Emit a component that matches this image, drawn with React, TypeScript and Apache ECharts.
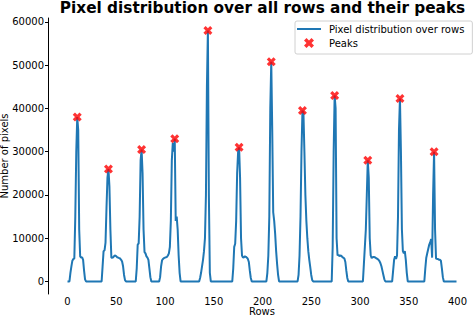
import React, { useEffect, useRef } from "react";
import * as echarts from "echarts";

// Row index (breakpoints of the profile) and pixel count at that row
const rowIdx: number[] = [
  0, 2, 3, 4, 5, 6, 7, 8, 9, 10, 11, 12, 13, 14, 15, 16, 17, 18, 19,
  35, 36, 37, 38, 39, 40, 41, 42, 43, 44, 45, 46, 47, 48, 49, 50, 51, 52, 53, 54, 55, 56, 57, 58, 59, 60,
  70, 71, 72, 73, 74, 75, 76, 77, 78, 79, 80, 81, 82, 83, 84, 85, 86,
  94, 95, 96, 97, 98, 99, 100, 101, 102, 103, 104, 105, 106, 107, 108, 109, 110, 111, 112, 113, 114, 115, 116,
  135, 136, 137, 138, 139, 140, 141, 142, 143, 144, 145, 146, 147,
  169, 170, 171, 172, 173, 174, 175, 176, 177, 178, 179, 180, 181, 182, 183, 184, 185, 186, 187, 188, 189,
  204, 205, 206, 207, 208, 209, 210, 211, 212, 213, 214, 215, 216, 217,
  236, 237, 238, 239, 240, 241, 242, 243, 244, 245, 246, 247, 248, 249, 250, 251, 252,
  271, 272, 273, 274, 275, 276, 277, 278, 279, 280, 281, 282, 283, 284, 285, 286, 287, 288,
  303, 304, 305, 306, 307, 308, 309, 310, 311, 312, 313, 314, 315, 316, 317, 318, 319, 320, 321, 322, 323, 324, 325, 326,
  333, 334, 335, 336, 337, 338, 339, 340, 341, 342, 343, 344, 345, 346, 347, 348, 349,
  366, 367, 368, 369, 370, 371, 372, 373, 374, 375, 376, 377, 378, 379, 380, 381, 382, 383, 384, 385, 386, 399,
];

const pixelCounts: number[] = [
  0, 0, 2000, 3500, 4800, 5200, 5300, 15000, 30000, 38000, 35000, 12000, 5800, 5500, 5600, 5000, 2500, 500, 0,
  0, 3500, 7000, 7200, 9000, 17000, 24000, 26000, 22000, 12000, 5500, 5500, 5600, 5900, 6000, 5800, 5600, 5500, 5400, 5300, 5000, 4600, 3500, 1500, 300, 0,
  0, 3000, 8500, 8800, 15000, 28000, 30500, 25000, 12000, 6800, 6500, 5800, 5500, 5000, 3000, 1000, 0,
  0, 1000, 3500, 4900, 5200, 5400, 5500, 5600, 5700, 6000, 6500, 8000, 14000, 28000, 32000, 30000, 33000, 14000, 15000, 12000, 6000, 2000, 0,
  0, 800, 2000, 3500, 5000, 7000, 10000, 20000, 45000, 58000, 20000, 2000, 0,
  0, 3000, 8000, 8700, 14000, 25000, 30000, 31000, 24000, 10000, 6000, 5500, 5600, 5800, 5700, 5500, 5200, 4500, 2500, 800, 0,
  0, 2000, 6000, 15000, 40000, 50800, 35000, 16000, 14000, 11000, 7000, 4000, 1500, 0,
  0, 1500, 6000, 15000, 30000, 39500, 39000, 30000, 20000, 14000, 10000, 7000, 5000, 3300, 1500, 300, 0,
  0, 8000, 30000, 43000, 40000, 10000, 6000, 6200, 5800, 6000, 5900, 5600, 5500, 5300, 4500, 2500, 800, 0,
  0, 4000, 8000, 12000, 20000, 28000, 24000, 10000, 6000, 5400, 5600, 5700, 5600, 5500, 5300, 5200, 5000, 4700, 4200, 3500, 2500, 1500, 500, 0,
  0, 2500, 5000, 5800, 5200, 6000, 15000, 35000, 42300, 30000, 12000, 7000, 6500, 7000, 5000, 2000, 0,
  0, 3000, 5500, 6500, 7500, 8500, 9000, 9800, 5500, 20000, 30000, 12000, 5300, 5200, 5200, 5000, 5000, 4800, 3000, 1000, 0, 0,
];

const peakRows: number[] = [10, 42, 76, 110, 144, 176, 209, 241, 274, 308, 341, 376];
const peakValues: number[] = [38000, 26000, 30500, 33000, 58000, 31000, 50800, 39500, 43000, 28000, 42300, 30000];

const xTicks: number[] = [0, 50, 100, 150, 200, 250, 300, 350, 400];
const yTicks: number[] = [0, 10000, 20000, 30000, 40000, 50000, 60000];

const TITLE = "Pixel distribution over all rows and their peaks";
const LINE_NAME = "Pixel distribution over rows";
const PEAK_NAME = "Peaks";

const FONT = "DejaVu Sans";
const X_MARK =
  "path://M0,2.5 L2.5,0 L5,2.5 L7.5,0 L10,2.5 L7.5,5 L10,7.5 L7.5,10 L5,7.5 L2.5,10 L0,7.5 L2.5,5 Z";
const LINE_ICON = "path://M0,0 H24 V2 H0 Z";

export default function App() {
  const ref = useRef<HTMLDivElement>(null);

  useEffect(() => {
    if (!ref.current) return;
    const chart = echarts.init(ref.current, null, { renderer: "svg" });
    const lineData = rowIdx.map((r, i) => [r, pixelCounts[i]]);
    const peakData = peakRows.map((r, i) => [r, peakValues[i]]);

    chart.setOption({
      animation: false,
      backgroundColor: "#ffffff",
      graphic: [
        {
          type: "text",
          x: 262.5,
          y: 0.8,
          style: {
            text: TITLE,
            fill: "#000",
            fontFamily: FONT,
            fontWeight: "bold",
            fontSize: 15.3,
            align: "center",
            verticalAlign: "top",
          },
        },
      ],
      grid: { left: 48, right: 0, top: 18, bottom: 22, containLabel: false, outerBoundsMode: "none" },
      legend: {
        orient: "vertical",
        left: 295,
        top: 21,
        padding: [3, 8, 6, 2],
        itemGap: 4,
        itemWidth: 24,
        itemHeight: 10,
        borderColor: "#d0d0d0",
        borderWidth: 1,
        borderRadius: 2,
        backgroundColor: "rgba(255,255,255,0.8)",
        textStyle: { fontFamily: FONT, fontSize: 10, color: "#000", padding: [0, 0, 0, 3] },
        data: [{ name: LINE_NAME, icon: LINE_ICON }, { name: PEAK_NAME, icon: X_MARK }],
      },
      xAxis: {
        type: "value",
        min: -20,
        max: 419,
        name: "Rows",
        nameLocation: "middle",
        nameGap: 12.3,
        nameMoveOverlap: false,
        nameTextStyle: { fontFamily: FONT, fontSize: 10, color: "#000", lineHeight: 10 },
        axisLine: { show: false, onZero: false },
        axisTick: { show: false },
        splitLine: { show: false },
        axisLabel: {
          customValues: xTicks,
          formatter: (v: number) => String(v),
          fontFamily: FONT,
          fontSize: 10,
          lineHeight: 10,
          color: "#000",
          margin: 2.5,
        },
      },
      yAxis: {
        type: "value",
        min: -2900,
        max: 60900,
        name: "Number of pixels",
        nameLocation: "middle",
        nameGap: 43.5,
        nameRotate: 90,
        nameMoveOverlap: false,
        nameTextStyle: { fontFamily: FONT, fontSize: 10, color: "#000", verticalAlign: "middle" },
        axisLine: { show: true, onZero: false, lineStyle: { color: "#000", width: 1 } },
        axisTick: { show: true, customValues: yTicks, length: 3, lineStyle: { color: "#000", width: 1 } },
        splitLine: { show: false },
        axisLabel: {
          customValues: yTicks,
          formatter: (v: number) => String(v),
          fontFamily: FONT,
          fontSize: 10,
          color: "#000",
          margin: 4,
        },
      },
      series: [
        {
          name: LINE_NAME,
          type: "line",
          data: lineData,
          symbol: "none",
          showSymbol: false,
          lineStyle: { color: "#1f77b4", width: 2 },
          itemStyle: { color: "#1f77b4" },
          z: 2,
        },
        {
          name: PEAK_NAME,
          type: "scatter",
          data: peakData,
          symbol: X_MARK,
          symbolSize: 9,
          itemStyle: { color: "#ff0000" },
          z: 3,
        },
      ],
    });
    return () => chart.dispose();
  }, []);

  return (
    <div
      ref={ref}
      style={{ position: "fixed", left: 0, top: 0, width: 476, height: 316 }}
    />
  );
}
